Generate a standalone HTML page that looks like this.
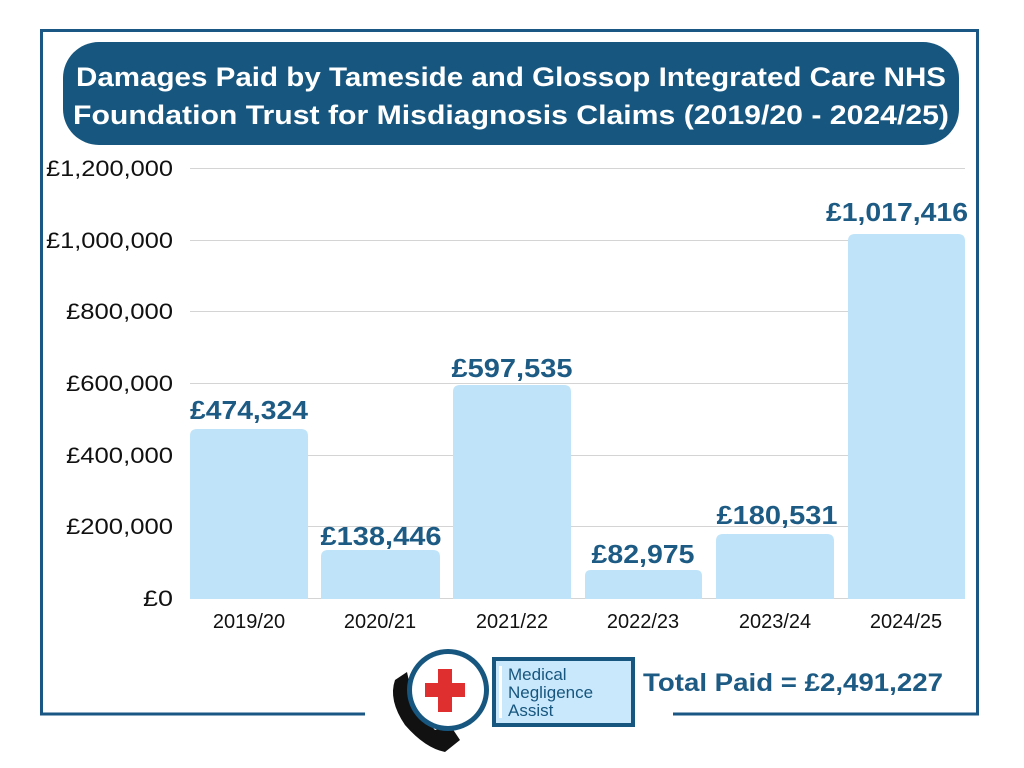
<!DOCTYPE html>
<html><head><meta charset="utf-8"><style>
body{margin:0;background:#fff;}
svg{display:block;font-family:"Liberation Sans",sans-serif;}
</style></head><body>
<svg width="1024" height="768" viewBox="0 0 1024 768">
<rect width="1024" height="768" fill="#fff"/>
<path d="M365,714 H41.5 V30.5 H977.5 V714 H673" fill="none" stroke="#1a5784" stroke-width="3"/>
<rect x="63" y="42" width="896" height="103" rx="36" fill="#16567f"/>
<text x="511" y="86" font-size="27" font-weight="bold" fill="#fff" text-anchor="middle" textLength="870" lengthAdjust="spacingAndGlyphs">Damages Paid by Tameside and Glossop Integrated Care NHS</text>
<text x="511" y="124" font-size="27" font-weight="bold" fill="#fff" text-anchor="middle" textLength="876" lengthAdjust="spacingAndGlyphs">Foundation Trust for Misdiagnosis Claims (2019/20 - 2024/25)</text>
<g stroke="#d4d4d4" stroke-width="1">
<line x1="190" x2="965" y1="168.5" y2="168.5"/><line x1="190" x2="965" y1="240.5" y2="240.5"/>
<line x1="190" x2="965" y1="311.5" y2="311.5"/><line x1="190" x2="965" y1="383.5" y2="383.5"/>
<line x1="190" x2="965" y1="455.5" y2="455.5"/><line x1="190" x2="965" y1="526.5" y2="526.5"/>
<line x1="190" x2="965" y1="598.5" y2="598.5"/>
</g>
<g font-size="22" fill="#111" text-anchor="end">
<text x="173" y="176" textLength="127" lengthAdjust="spacingAndGlyphs">£1,200,000</text><text x="173" y="248" textLength="127" lengthAdjust="spacingAndGlyphs">£1,000,000</text>
<text x="173" y="319" textLength="107" lengthAdjust="spacingAndGlyphs">£800,000</text><text x="173" y="391" textLength="107" lengthAdjust="spacingAndGlyphs">£600,000</text>
<text x="173" y="463" textLength="107" lengthAdjust="spacingAndGlyphs">£400,000</text><text x="173" y="534" textLength="107" lengthAdjust="spacingAndGlyphs">£200,000</text>
<text x="173" y="606" textLength="30" lengthAdjust="spacingAndGlyphs">£0</text>
</g>
<g fill="#bfe3f8">
<path d="M190,599 V436 q0,-7 7,-7 H301 q7,0 7,7 V599Z"/>
<path d="M321,599 V557 q0,-7 7,-7 H433 q7,0 7,7 V599Z"/>
<path d="M453,599 V392 q0,-7 7,-7 H564 q7,0 7,7 V599Z"/>
<path d="M585,599 V576 q0,-6 6,-6 H696 q6,0 6,6 V599Z"/>
<path d="M716,599 V541 q0,-7 7,-7 H827 q7,0 7,7 V599Z"/>
<path d="M848,599 V241 q0,-7 7,-7 H958 q7,0 7,7 V599Z"/>
</g>
<g font-size="26" font-weight="bold" fill="#1d5b84" text-anchor="middle">
<text x="249" y="419" textLength="118" lengthAdjust="spacingAndGlyphs">£474,324</text><text x="381" y="545" textLength="121" lengthAdjust="spacingAndGlyphs">£138,446</text>
<text x="512" y="377" textLength="121" lengthAdjust="spacingAndGlyphs">£597,535</text><text x="643" y="563" textLength="103" lengthAdjust="spacingAndGlyphs">£82,975</text>
<text x="777" y="524" textLength="121" lengthAdjust="spacingAndGlyphs">£180,531</text><text x="897" y="221" textLength="142" lengthAdjust="spacingAndGlyphs">£1,017,416</text>
</g>
<g font-size="20" fill="#111" text-anchor="middle">
<text x="249" y="628">2019/20</text><text x="380" y="628">2020/21</text>
<text x="512" y="628">2021/22</text><text x="643" y="628">2022/23</text>
<text x="775" y="628">2023/24</text><text x="906" y="628">2024/25</text>
</g>
<!-- logo -->
<path d="M407,672 L395,680 Q388,700 405,725 Q425,748 445,752 L460,740 L450,725 L435,730 Q420,715 412,695 Z" fill="#111"/>
<rect x="492" y="657" width="143" height="70" fill="#16567f"/>
<rect x="496" y="661" width="135" height="62" fill="#c9e8fb"/>
<circle cx="448" cy="690" r="41" fill="#16567f"/>
<circle cx="448" cy="690" r="36" fill="#fff"/>
<rect x="438" y="669" width="14" height="43" fill="#e02f2f"/>
<rect x="425" y="683" width="40" height="14" fill="#e02f2f"/>
<rect x="499" y="666" width="3" height="52" fill="#fff"/>
<g font-size="17" fill="#16567f"><text x="508" y="680">Medical</text><text x="508" y="698">Negligence</text><text x="508" y="716">Assist</text></g>
<text x="643" y="691" font-size="25" font-weight="bold" fill="#1d5b84" textLength="300" lengthAdjust="spacingAndGlyphs">Total Paid = £2,491,227</text>
</svg>
</body></html>
